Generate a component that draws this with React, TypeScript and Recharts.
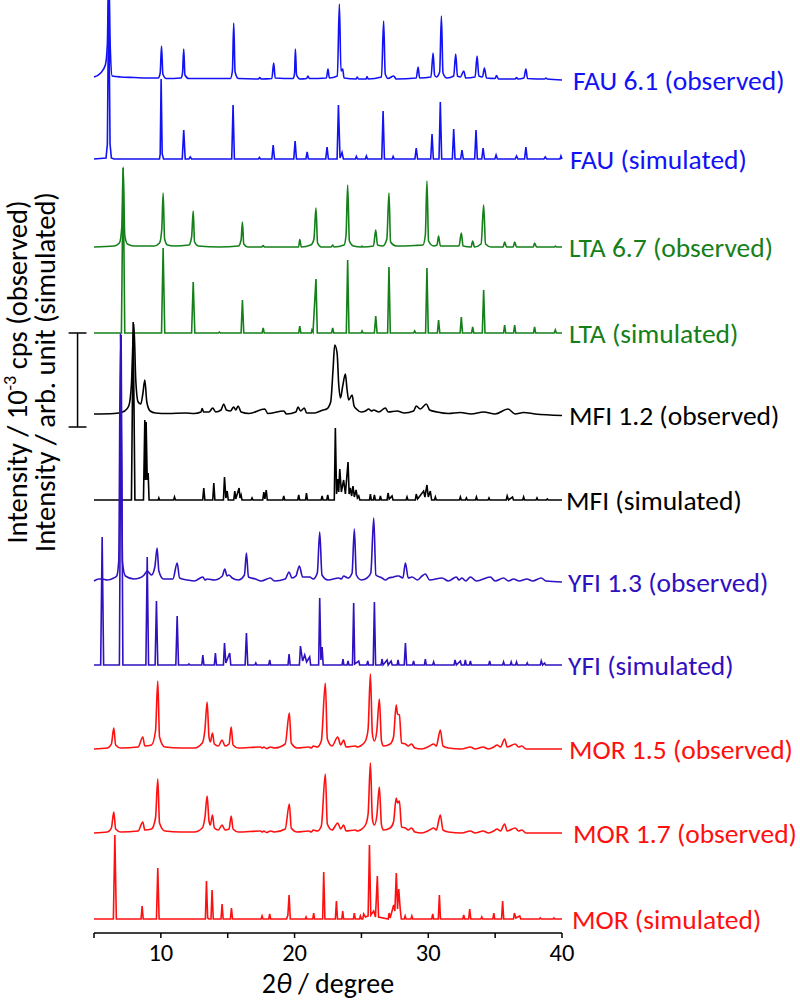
import { LineChart, Line, XAxis, YAxis, ReferenceLine } from "recharts";

// 2θ / intensity pairs (intensity = height above each trace's own baseline)
const fauObs: [number, number][] = [
  [5, 2], [5.5, 6], [5.85, 14], [6.0, 35], [6.1, 110], [6.22, 30], [6.36, 3], [7, 2], [8, 1.5], [9, 1], [9.8, 1],
  [9.95, 6], [10.05, 33], [10.15, 5], [10.4, 0.5], [11.5, 1], [11.62, 6], [11.71, 30], [11.8, 4], [12.1, 0.5],
  [15.2, 0.5], [15.35, 8], [15.45, 56], [15.55, 7], [15.8, 0.5], [17.3, 0], [17.4, 1.5], [17.5, 0], [18.3, 0.5],
  [18.44, 16], [18.55, 1], [19.9, 0.5], [20.0, 6], [20.06, 30], [20.15, 4], [20.4, 0], [20.9, 0.5], [21.0, 3],
  [21.1, 0.5], [22.38, 1], [22.5, 10], [22.6, 1], [23.2, 3], [23.35, 75], [23.47, 8], [23.6, 10], [23.7, 1],
  [24.6, 0], [24.68, 2], [24.78, 0], [25.35, 0], [25.42, 2.5], [25.5, 0], [26.5, 2], [26.66, 58], [26.78, 5],
  [27.0, 0.5], [27.41, 3], [27.6, 0], [29.1, 1], [29.24, 12], [29.35, 1], [30.2, 2], [30.36, 26], [30.47, 4],
  [30.6, 2], [30.85, 7], [30.98, 63], [31.1, 6], [31.4, 1], [31.9, 3], [32.05, 25], [32.18, 3], [32.4, 2],
  [32.65, 8], [32.8, 1], [33.5, 2], [33.65, 23], [33.78, 3], [34.05, 2], [34.2, 11], [34.35, 1], [35.0, 0.5],
  [35.1, 3.5], [35.25, 0], [36.5, 0], [36.6, 1.5], [36.7, 0], [37.15, 1], [37.3, 10], [37.42, 0.5], [38.7, 0],
  [38.8, 1], [38.9, 0], [40, -1],
];

const fauSim: [number, number][] = [
  [5, 0], [5.9, 1], [6.0, 15], [6.1, 170], [6.2, 15], [6.3, 1], [6.5, 0], [9.9, 0], [9.95, 5], [10.02, 80],
  [10.1, 5], [10.2, 0], [11.6, 0], [11.71, 29], [11.82, 0], [12.1, 0], [12.2, 2], [12.3, 0], [15.3, 0], [15.4, 54],
  [15.5, 0], [17.3, 0], [17.37, 1.5], [17.45, 0], [18.3, 0], [18.4, 14], [18.5, 0], [19.94, 0], [20.04, 18],
  [20.14, 0], [20.85, 0], [20.94, 7], [21.03, 0], [22.33, 0], [22.43, 12], [22.53, 0], [23.18, 0], [23.28, 54],
  [23.4, 1], [23.55, 6.5], [23.65, 0], [24.55, 0], [24.62, 2.5], [24.7, 0], [25.3, 0], [25.37, 3], [25.45, 0],
  [26.52, 0], [26.62, 48], [26.72, 0], [27.3, 0], [27.37, 2.5], [27.45, 0], [29.0, 0], [29.1, 11], [29.2, 0],
  [30.18, 0], [30.28, 25], [30.38, 0], [30.8, 0], [30.9, 57], [31.0, 0], [31.8, 0], [31.9, 30], [32.0, 0],
  [32.42, 0], [32.52, 9], [32.62, 0], [33.47, 0], [33.57, 29], [33.67, 0], [34.0, 0], [34.1, 11], [34.2, 0],
  [34.98, 0], [35.07, 4], [35.16, 0], [36.5, 0], [36.6, 3], [36.7, 0], [37.2, 0], [37.3, 12], [37.4, 0],
  [38.65, 0], [38.75, 2], [38.85, 0], [39.85, 0], [39.92, 3], [40, 0],
];

const ltaObs: [number, number][] = [
  [5, 0], [6.5, 1], [6.9, 4], [7.08, 20], [7.18, 80], [7.3, 12], [7.5, 3], [8, 1], [9.5, 1], [9.9, 4], [10.07, 18],
  [10.17, 54], [10.28, 8], [10.5, 2], [11, 1], [12.1, 2], [12.3, 10], [12.42, 36], [12.52, 5], [12.8, 1],
  [14.38, 0], [15.8, 1], [16.0, 7], [16.1, 25], [16.2, 3], [16.5, 0], [17.55, 0], [17.65, 1.5], [17.75, 0],
  [20.3, 0], [20.39, 7.5], [20.5, 0], [21.2, 2], [21.3, 3], [21.45, 8], [21.6, 39], [21.72, 4], [22, 0],
  [22.75, 0], [22.85, 2], [22.95, 0], [23.7, 2], [23.85, 12], [23.97, 62], [24.1, 6], [24.4, 1], [25, 0],
  [25.05, 1], [25.1, 0], [25.9, 1], [26.07, 17], [26.2, 2], [26.6, 1], [26.9, 8], [27.06, 54], [27.18, 5],
  [27.6, 1], [28.98, 1.5], [29.6, 2], [29.78, 12], [29.9, 66], [30.02, 6], [30.4, 1], [30.65, 2], [30.77, 11],
  [30.9, 1], [32.3, 1], [32.47, 14], [32.6, 1], [33.2, 0], [33.32, 6], [33.45, 0], [33.95, 3], [34.14, 42],
  [34.28, 3], [34.7, 0], [35.6, 0], [35.71, 5], [35.85, 0], [36.35, 0], [36.46, 5], [36.6, 0], [37.85, 0],
  [37.95, 4], [38.1, 0], [39.45, 0], [39.5, 1], [39.6, 0], [40, 0],
];

const ltaSim: [number, number][] = [
  [5, 0], [7.05, 0], [7.18, 165], [7.3, 0], [10.05, 0], [10.17, 85], [10.29, 0], [12.3, 0], [12.42, 51],
  [12.54, 0], [14.3, 0], [14.38, 1], [14.46, 0], [16.0, 0], [16.1, 33], [16.2, 0], [17.57, 0], [17.65, 5],
  [17.73, 0], [20.31, 0], [20.39, 7], [20.47, 0], [21.25, 0], [21.3, 3], [21.38, 1], [21.6, 54], [21.7, 0],
  [22.77, 0], [22.85, 5], [22.93, 0], [23.87, 0], [23.97, 73], [24.07, 0], [24.98, 0], [25.05, 2], [25.12, 0],
  [25.97, 0], [26.07, 17], [26.17, 0], [26.96, 0], [27.06, 66], [27.16, 0], [28.9, 0], [28.98, 2], [29.06, 0],
  [29.8, 0], [29.9, 65], [30.0, 0], [30.68, 0], [30.77, 13], [30.86, 0], [32.38, 0], [32.47, 16], [32.56, 0],
  [33.24, 0], [33.32, 6], [33.4, 0], [34.04, 0], [34.14, 43], [34.24, 0], [35.63, 0], [35.71, 8], [35.79, 0],
  [36.38, 0], [36.46, 8], [36.54, 0], [37.87, 0], [37.95, 6], [38.03, 0], [39.42, 0], [39.5, 3], [39.58, 0],
  [40, 0],
];

const mfiObs: [number, number][] = [
  [5, 0], [6.5, 0.5], [6.84, 1], [7.3, 3], [7.6, 8], [7.8, 30], [7.98, 90], [8.12, 35], [8.3, 12], [8.5, 10],
  [8.65, 20], [8.8, 34], [8.95, 12], [9.2, 3], [9.6, 1], [10.5, 0.5], [11.84, 1], [12.5, 0.5], [13.0, 2],
  [13.09, 5.5], [13.2, 2], [13.6, 2], [13.88, 6], [14.1, 2], [14.5, 4], [14.7, 10], [14.9, 4], [15.2, 3],
  [15.45, 7], [15.6, 4], [15.78, 8], [16.0, 2], [16.6, 0.5], [17.77, 5], [18.0, 0.5], [19.19, 3], [19.4, 0],
  [20.1, 2], [20.26, 7], [20.45, 3], [20.73, 6], [20.9, 1], [21.5, 1], [22.13, 4], [22.4, 5], [22.7, 12],
  [22.88, 45], [23.0, 69], [23.18, 61], [23.3, 30], [23.43, 16], [23.6, 28], [23.8, 40], [23.92, 25],
  [24.05, 14], [24.3, 19], [24.45, 8], [24.62, 5], [25.0, 2], [25.3, 3], [25.54, 5], [25.75, 3], [25.92, 4],
  [26.3, 2], [26.79, 6], [27.0, 2], [27.67, 3], [28.2, 1], [28.9, 3], [29.1, 8], [29.4, 5], [29.86, 10],
  [30.1, 4], [30.66, 2], [31.5, 0.5], [32.4, 1.5], [33.2, 0], [34.14, 2], [35.0, 0], [35.96, 5], [36.5, 0],
  [37.13, 1.5], [38, 0], [40, -1.5],
];

const mfiSim: [number, number][] = [
  [5, 0], [7.8, 0], [7.93, 178], [8.06, 0], [8.7, 0], [8.8, 80], [8.85, 20], [8.9, 78], [8.98, 20], [9.05, 27],
  [9.12, 0], [9.8, 0], [9.85, 2], [9.9, 0], [10.95, 0], [11.02, 3], [11.09, 0], [13.13, 0], [13.21, 12],
  [13.29, 0], [13.88, 0], [13.96, 17], [14.04, 0], [14.68, 0], [14.76, 23], [14.86, 2], [14.96, 9], [15.04, 0],
  [15.45, 0], [15.53, 9], [15.6, 1], [15.85, 12], [15.92, 2], [16.0, 5], [16.07, 0], [16.75, 0], [16.82, 2],
  [16.89, 0], [17.62, 0], [17.7, 8], [17.78, 1], [17.88, 10], [17.96, 0], [19.12, 0], [19.19, 4], [19.26, 0],
  [20.24, 0], [20.31, 5], [20.38, 0], [20.82, 0], [20.89, 7], [20.96, 0], [21.99, 0], [22.06, 4], [22.13, 0],
  [22.41, 0], [22.48, 5], [22.55, 0], [22.97, 0], [23.05, 72], [23.14, 6], [23.23, 21], [23.3, 8], [23.38, 31],
  [23.5, 8], [23.67, 20], [23.8, 6], [24.0, 38], [24.08, 6], [24.17, 12], [24.27, 4], [24.37, 14], [24.47, 3],
  [24.6, 10], [24.7, 2], [24.8, 4], [24.88, 0], [25.6, 0], [25.67, 6], [25.74, 0], [25.9, 0], [25.97, 5],
  [26.04, 0], [26.35, 0], [26.42, 4], [26.49, 0], [26.92, 0], [26.99, 7], [27.08, 1], [27.29, 4], [27.36, 0],
  [28.34, 0], [28.41, 3], [28.48, 0], [29.03, 0], [29.1, 6], [29.2, 1], [29.65, 9], [29.75, 3], [29.9, 15],
  [30.0, 3], [30.15, 9], [30.25, 0], [30.46, 0], [30.53, 3], [30.6, 0], [32.33, 0], [32.4, 3], [32.47, 0],
  [32.78, 0], [32.85, 2], [32.92, 0], [33.53, 0], [33.6, 3], [33.67, 0], [34.47, 0], [34.54, 2], [34.61, 0],
  [35.83, 0], [35.9, 4], [36.0, 0], [36.3, 3], [36.37, 0], [37.06, 0], [37.13, 3], [37.2, 0], [38.06, 0],
  [38.13, 2], [38.2, 0], [38.83, 0], [38.9, 1], [38.97, 0], [40, 0],
];

const yfiObs: [number, number][] = [
  [5, 0], [5.36, 2], [5.6, 2], [6.0, 1], [6.48, 3], [6.7, 5], [6.85, 20], [6.98, 247], [7.12, 20], [7.35, 5],
  [7.98, 2], [8.4, 3], [8.75, 6], [8.98, 10], [9.3, 6], [9.55, 14], [9.72, 33], [9.85, 10], [10.2, 2],
  [10.9, 2], [11.22, 18], [11.4, 3], [12.0, 1], [12.5, 0], [13.14, 4], [13.3, 1], [13.46, 2], [14.0, 1],
  [14.6, 5], [14.78, 12], [14.95, 5], [15.08, 6], [15.33, 3], [15.8, 1], [16.25, 6], [16.4, 28], [16.55, 4],
  [17.07, 2], [17.5, 0], [18.19, 3], [18.5, 0], [19.3, 2], [19.59, 9], [19.8, 3], [20.1, 5], [20.36, 15],
  [20.6, 4], [21.13, 4], [21.4, 2], [21.7, 8], [21.88, 49], [22.05, 6], [22.5, 1], [23.3, 3], [23.5, 2],
  [23.67, 5], [24.0, 3], [24.3, 8], [24.47, 52], [24.62, 6], [25.0, 1], [25.42, 3], [25.7, 8], [25.92, 63],
  [26.08, 6], [26.54, 3], [26.8, 1], [27.04, 3], [27.41, 4], [27.67, 5], [27.79, 5], [28.1, 3], [28.29, 18],
  [28.5, 3], [28.79, 4], [29.2, 1], [29.53, 5], [29.78, 7], [30.1, 1], [31.03, 3], [31.5, 0], [32.1, 4],
  [32.3, 1], [32.52, 3], [32.8, 0], [33.15, 4], [33.6, 0], [34.64, 4], [35.0, 0], [35.63, 3], [36.0, 0],
  [36.38, 2], [36.8, 0], [37.38, 2], [37.8, 0], [38.45, 3], [38.8, 0], [40, -1],
];

const yfiSim: [number, number][] = [
  [5, 0], [5.5, 0], [5.61, 128], [5.72, 0], [6.9, 0], [7.03, 330], [7.16, 0], [8.88, 0], [8.98, 108],
  [9.08, 0], [9.57, 0], [9.67, 64], [9.77, 0], [11.12, 0], [11.22, 49], [11.32, 0], [12.03, 0], [12.1, 1],
  [12.17, 0], [13.06, 0], [13.14, 10], [13.22, 0], [14.0, 0], [14.08, 12], [14.16, 0], [14.68, 0], [14.76, 22],
  [14.86, 2], [15.15, 12], [15.23, 0], [16.3, 0], [16.4, 32], [16.5, 0], [17.03, 0], [17.1, 2], [17.17, 0],
  [18.07, 0], [18.14, 5], [18.21, 0], [19.51, 0], [19.59, 11], [19.67, 0], [20.36, 0], [20.44, 19], [20.6, 4],
  [20.76, 10], [20.9, 3], [21.13, 8], [21.2, 0], [21.8, 0], [21.88, 67], [21.97, 5], [22.06, 18], [22.14, 0],
  [23.55, 0], [23.62, 6], [23.69, 0], [23.93, 0], [24.0, 4], [24.07, 0], [24.33, 0], [24.42, 62], [24.5, 1],
  [24.8, 4], [24.87, 0], [25.4, 0], [25.47, 4], [25.54, 0], [25.88, 0], [25.97, 63], [26.06, 0], [26.47, 0],
  [26.54, 6], [26.62, 0], [26.92, 5], [27.0, 0], [27.22, 4], [27.3, 0], [27.67, 0], [27.74, 5], [27.81, 0],
  [28.2, 0], [28.29, 22], [28.38, 0], [28.83, 0], [28.9, 4], [28.97, 0], [29.71, 0], [29.78, 6], [29.85, 0],
  [30.33, 0], [30.4, 3], [30.47, 0], [31.93, 0], [32.0, 5], [32.1, 0], [32.4, 4], [32.47, 0], [32.7, 0],
  [32.77, 5], [32.84, 0], [33.08, 0], [33.15, 4], [33.22, 0], [34.52, 0], [34.59, 4], [34.66, 0], [35.56, 0],
  [35.63, 3], [35.7, 0], [36.13, 0], [36.2, 3], [36.27, 0], [36.53, 0], [36.6, 3], [36.67, 0], [37.33, 0],
  [37.4, 2], [37.47, 0], [38.38, 0], [38.45, 4], [38.55, 0], [38.7, 2], [38.77, 0], [40, 0],
];

const mor15Obs: [number, number][] = [
  [5, 0], [6.0, 1], [6.3, 5], [6.48, 21], [6.62, 4], [7.0, 1], [8.3, 2], [8.65, 12], [8.8, 3], [9.3, 4],
  [9.6, 18], [9.77, 68], [9.9, 12], [10.3, 2], [11.5, 1], [12.5, 1], [13.1, 6], [13.3, 20], [13.46, 47],
  [13.6, 12], [13.7, 7], [13.86, 16], [14.0, 5], [14.3, 3], [14.58, 9], [14.8, 3], [15.1, 5], [15.26, 22],
  [15.4, 4], [15.8, 1], [17.45, 2], [17.6, 1], [17.7, 2], [17.9, 0.5], [18.2, 2], [18.5, 1], [19.3, 5],
  [19.61, 36], [19.75, 6], [20.2, 1], [21.06, 2], [21.25, 1], [21.4, 3], [21.7, 2], [22.0, 8], [22.3, 66],
  [22.45, 10], [22.8, 3], [23.23, 12], [23.45, 4], [23.67, 9], [23.85, 2], [24.54, 3], [24.7, 2], [24.92, 3],
  [25.3, 8], [25.5, 20], [25.67, 75], [25.82, 15], [25.97, 8], [26.15, 18], [26.34, 50], [26.5, 8],
  [26.66, 3], [27.15, 5], [27.4, 12], [27.6, 44], [27.7, 35], [27.84, 34], [28.0, 6], [28.29, 5], [28.5, 3],
  [28.74, 5], [29.0, 1], [29.5, 0], [30.1, 3], [30.4, 5], [30.6, 3], [30.9, 19], [31.1, 3], [31.5, 1],
  [32.5, 0], [33.15, 2], [33.5, 0], [34.1, 2], [34.5, 0], [34.9, 2], [35.14, 4], [35.4, 2], [35.71, 10],
  [35.9, 2], [36.5, 5], [36.75, 2], [37.0, 3], [37.3, 0], [40, 0],
];

const mor17Obs: [number, number][] = [
  [5, 0], [6.0, 1], [6.3, 5], [6.48, 21], [6.62, 4], [7.0, 1], [8.3, 2], [8.65, 11], [8.8, 3], [9.3, 4],
  [9.6, 15], [9.77, 54], [9.9, 10], [10.3, 2], [11.5, 1], [12.5, 1], [13.1, 5], [13.3, 16], [13.46, 37],
  [13.6, 12], [13.7, 8], [13.86, 18], [14.0, 5], [14.3, 3], [14.58, 8], [14.8, 3], [15.1, 4], [15.26, 17],
  [15.4, 4], [15.8, 1], [17.45, 2], [17.6, 1], [17.7, 2], [17.9, 0.5], [18.2, 2], [18.5, 1], [19.3, 4],
  [19.61, 29], [19.75, 5], [20.2, 1], [21.06, 2], [21.25, 1], [21.4, 3], [21.7, 2], [22.0, 7], [22.3, 59],
  [22.45, 9], [22.8, 3], [23.23, 10], [23.45, 4], [23.67, 8], [23.85, 2], [24.54, 3], [24.7, 2], [24.92, 3],
  [25.3, 8], [25.5, 19], [25.67, 70], [25.82, 14], [25.97, 8], [26.15, 17], [26.34, 46], [26.5, 8],
  [26.66, 3], [27.15, 5], [27.4, 11], [27.6, 35], [27.7, 30], [27.84, 32], [28.0, 6], [28.29, 5], [28.5, 3],
  [28.74, 5], [29.0, 1], [29.5, 0], [30.1, 3], [30.4, 5], [30.6, 3], [30.9, 18], [31.1, 3], [31.5, 1],
  [32.5, 0], [33.15, 2], [33.5, 0], [34.1, 2], [34.5, 0], [34.9, 2], [35.14, 4], [35.4, 2], [35.71, 9],
  [35.9, 2], [36.5, 5], [36.75, 2], [37.0, 3], [37.3, 0], [40, 0],
];

const morSim: [number, number][] = [
  [5, 0], [6.45, 0], [6.56, 84], [6.67, 0], [8.52, 0], [8.6, 13], [8.68, 0], [9.67, 0], [9.77, 51], [9.87, 0],
  [13.33, 0], [13.41, 38], [13.5, 1], [13.6, 0], [13.75, 0], [13.83, 29], [13.92, 0], [14.5, 0], [14.58, 15],
  [14.66, 0], [15.2, 0], [15.28, 11], [15.36, 0], [17.5, 0], [17.57, 3], [17.64, 0], [18.07, 0], [18.14, 5],
  [18.21, 0], [19.4, 0], [19.5, 4], [19.59, 24], [19.68, 0], [20.8, 0], [20.86, 2], [20.92, 0], [21.36, 0],
  [21.43, 6], [21.5, 0], [22.1, 0], [22.18, 47], [22.27, 0], [23.05, 0], [23.13, 18], [23.21, 0], [23.53, 0],
  [23.6, 8], [23.67, 0], [24.4, 0], [24.47, 6], [24.54, 0], [24.86, 0], [24.92, 3], [25.0, 0], [25.1, 0],
  [25.17, 5], [25.3, 2], [25.5, 3], [25.6, 74], [25.7, 4], [25.92, 8], [26.05, 2], [26.19, 43], [26.28, 2],
  [27.0, 0], [27.07, 6], [27.15, 1], [27.41, 14], [27.5, 8], [27.61, 46], [27.7, 10], [27.79, 30], [27.9, 10],
  [27.98, 0], [28.2, 0], [28.27, 3], [28.34, 0], [28.7, 0], [28.77, 3], [28.84, 0], [30.26, 0], [30.33, 5],
  [30.4, 0], [30.75, 0], [30.83, 24], [30.91, 0], [32.58, 0], [32.65, 4], [32.72, 0], [33.02, 0], [33.1, 10],
  [33.18, 0], [33.93, 0], [34.0, 2], [34.07, 0], [34.83, 0], [34.9, 6], [34.97, 0], [35.48, 0], [35.56, 18],
  [35.64, 0], [36.37, 0], [36.44, 6], [36.55, 1], [36.84, 3], [36.91, 0], [38.3, 0], [38.37, 1], [38.44, 0],
  [39.33, 0], [39.4, 1], [39.47, 0], [40, 0],
];

const traces = [fauObs, fauSim, ltaObs, ltaSim, mfiObs, mfiSim, yfiObs, yfiSim, mor15Obs, mor17Obs, morSim];
const names = [
  "FAU 6.1 (observed)", "FAU (simulated)", "LTA 6.7 (observed)", "LTA (simulated)", "MFI 1.2 (observed)",
  "MFI (simulated)", "YFI 1.3 (observed)", "YFI (simulated)", "MOR 1.5 (observed)", "MOR 1.7 (observed)",
  "MOR (simulated)",
];
// vertical stacking offset of each pattern
const offsets = [854, 774, 686, 600, 519, 433, 352, 268, 184, 100, 14];
const xTicks = [5, 10, 15, 20, 25, 30, 35, 40];

const colors = ["#1212f5", "#1212f5", "#15801a", "#15801a", "#000000", "#000000", "#3010c0", "#3010c0", "#ff1010", "#ff1010", "#ff1010"];
const labelDx = [11, 8, 7, 7, 7, 4, 6, 6, 7, 11, 10];
const FONT = "Carlito, Lato, sans-serif";

function YLabel() {
  const cy = 372;
  return (
    <g fontFamily={FONT} fontSize={28.5} fill="#000">
      <text x={27} y={cy} textAnchor="middle" transform={`rotate(-90 27 ${cy})`}>
        Intensity / 10<tspan dy={-11} fontSize={18}>-3</tspan>
        <tspan dy={11}> cps (observed)</tspan>
      </text>
      <text x={55} y={cy} textAnchor="middle" transform={`rotate(-90 55 ${cy})`}>
        Intensity / arb. unit (simulated)
      </text>
    </g>
  );
}

function XLabel({ viewBox }: any) {
  const cx = viewBox.x + viewBox.width / 2;
  return (
    <text x={cx} y={viewBox.y + 60} textAnchor="middle" fontFamily={FONT} fontSize={28} fill="#000">
      2<tspan fontStyle="italic">θ</tspan> / degree
    </text>
  );
}

export default function App() {
  return (
    <div style={{ position: "absolute", left: 0, top: 0, background: "#fff" }}>
      <LineChart width={800} height={1002} margin={{ top: 0, right: 238, bottom: 0, left: 0 }}>
        <XAxis
          dataKey="x"
          type="number"
          domain={[5, 40]}
          ticks={xTicks}
          tickFormatter={(v: number) => (v % 10 === 0 ? String(v) : "")}
          height={69}
          tickSize={5}
          tickMargin={6}
          axisLine={{ stroke: "#000", strokeWidth: 1.5 }}
          tickLine={{ stroke: "#000", strokeWidth: 1.5 }}
          tick={{ fill: "#000", fontSize: 24.5, fontFamily: FONT }}
          label={{ content: XLabel }}
        />
        <YAxis
          type="number"
          domain={[0, 933]}
          allowDataOverflow
          width={94}
          axisLine={false}
          tickLine={false}
          tick={false}
          label={{ content: YLabel }}
        />
        {/* scale bar */}
        <ReferenceLine ifOverflow="visible" stroke="#000" strokeWidth={1.5} segment={[{ x: 3.77, y: 506 }, { x: 3.77, y: 600 }]} />
        <ReferenceLine ifOverflow="visible" stroke="#000" strokeWidth={1.5} segment={[{ x: 3.1, y: 600 }, { x: 4.44, y: 600 }]} />
        <ReferenceLine ifOverflow="visible" stroke="#000" strokeWidth={1.5} segment={[{ x: 3.1, y: 506 }, { x: 4.44, y: 506 }]} />
        {traces.map((pts, i) => {
          const data = pts.map(([x, h]) => ({ x, y: h + offsets[i] }));
          const last = data.length - 1;
          const observed = names[i].includes("observed");
          return (
            <Line
              key={names[i]}
              data={data}
              dataKey="y"
              type={observed ? "monotone" : "linear"}
              stroke={colors[i]}
              strokeWidth={1.6}
              dot={false}
              isAnimationActive={false}
              label={(p: any) =>
                p.index === last ? (
                  <text key="lbl" x={p.x + labelDx[i]} y={p.y + 9.5} fill={colors[i]} fontSize={27.5} fontFamily={FONT}>
                    {names[i]}
                  </text>
                ) : (
                  <g key={`e${p.index}`} />
                )
              }
            />
          );
        })}
      </LineChart>
    </div>
  );
}
